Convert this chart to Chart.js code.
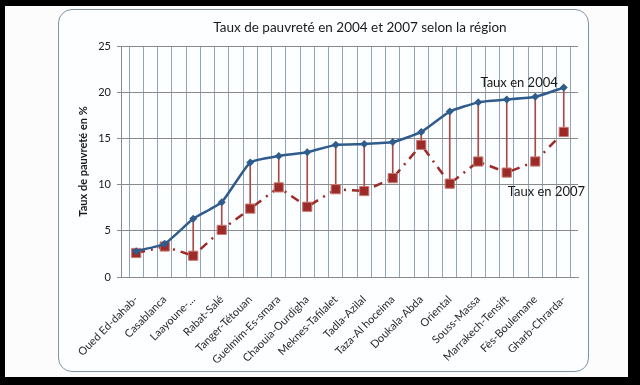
<!DOCTYPE html>
<html>
<head>
<meta charset="utf-8">
<script src="https://cdn.jsdelivr.net/npm/chart.js@4/dist/chart.umd.min.js"></script>
<style>
  html, body { margin:0; padding:0; background:#000; }
  body { width:640px; height:385px; position:relative; overflow:hidden; }
  .sheet { position:absolute; left:5px; top:6px; width:623px; height:371px; background:#fcfcfc; }
  .panel { position:absolute; left:53px; top:3px; width:529px; height:361px;
           border:1.5px solid #7d93a6; border-radius:14px; background:#fdfeff; }
  #chart { position:absolute; left:0; top:0; }
</style>
</head>
<body>
<div class="sheet">
  <div class="panel">
    <canvas id="chart" width="529" height="361"></canvas>
  </div>
</div>
<script>
// ====== DATA ======
const regions = ['Oued Ed-dahab-', 'Casablanca', 'Laayoune-...', 'Rabat-Salé', 'Tanger-Tétouan',
  'Guelmim-Es-smara', 'Chaouia-Ourdigha', 'Meknes-Tafilalet', 'Tadla-Azilal', 'Taza-Al hoceima',
  'Doukala-Abda', 'Oriental', 'Souss-Massa', 'Marrakech-Tensift', 'Fès-Boulemane', 'Gharb-Chrarda-'];
const taux2004 = [2.8, 3.6, 6.3, 8.1, 12.4, 13.1, 13.5, 14.3, 14.4, 14.6, 15.7, 17.9, 18.9, 19.2, 19.5, 20.5];
const taux2007 = [2.6, 3.3, 2.3, 5.1, 7.4, 9.7, 7.6, 9.5, 9.3, 10.7, 14.3, 10.1, 12.5, 11.3, 12.5, 15.7];
const yTicks = [0, 5, 10, 15, 20, 25];
const TITLE = 'Taux de pauvreté en 2004 et 2007 selon la région';

const FONT = 'Lato, "Open Sans", sans-serif';
const BLUE = '#2f5c8c';
const RED = '#9c2b27';

// x grid: one line at every category and one between categories
const xGridTicks = [];
for (let i = -0.5; i <= regions.length - 0.5; i += 0.5) xGridTicks.push(i);

// title + "Taux en 2004" / "Taux en 2007" texts
const texts = {
  id: 'texts',
  afterDatasetsDraw(chart){
    const {ctx, chartArea, scales:{x, y}} = chart;
    ctx.save();
    ctx.fillStyle = '#1a1a1a';
    ctx.textBaseline = 'middle';
    ctx.font = '13.5px ' + FONT;
    ctx.textAlign = 'center';
    ctx.fillText(TITLE, (chartArea.left + chartArea.right) / 2 + 10, 18);
    ctx.font = '13px ' + FONT;
    const last = regions.length - 1;
    ctx.textAlign = 'right';
    ctx.fillText('Taux en 2004', x.getPixelForValue(last) - 6, y.getPixelForValue(taux2004[last]) - 5);
    ctx.textAlign = 'left';
    ctx.fillText('Taux en 2007', x.getPixelForValue(13) + 1, y.getPixelForValue(taux2007[13]) + 19);
    ctx.restore();
  }
};

new Chart(document.getElementById('chart'), {
  data: {
    datasets: [
      {
        type: 'line', label: 'Taux en 2004', order: 1,
        data: taux2004.map((v, i) => ({ x: i, y: v })),
        borderColor: BLUE, backgroundColor: BLUE, borderWidth: 2.5, tension: 0.15,
        pointStyle: 'rectRot', pointRadius: 4, pointBorderWidth: 0
      },
      {
        type: 'line', label: 'Taux en 2007', order: 2,
        data: taux2007.map((v, i) => ({ x: i, y: v })),
        borderColor: RED, backgroundColor: RED, borderWidth: 2.5, borderDash: [9, 6, 2, 6],
        pointStyle: 'rect', pointRadius: 6.5, pointBorderWidth: 1, pointBorderColor: '#c87a74'
      },
      {
        type: 'bar', label: 'ecart', order: 3,
        data: taux2004.map((v, i) => ({ x: i, y: [taux2007[i], v] })),
        backgroundColor: '#a84a46', barThickness: 1
      }
    ]
  },
  options: {
    responsive: false,
    animation: false,
    layout: { padding: { left: 10, right: 10, top: 36, bottom: 0 } },
    plugins: {
      legend: { display: false },
      tooltip: { enabled: false },
      title: { display: false }
    },
    scales: {
      x: {
        type: 'linear', min: -0.5, max: regions.length - 0.5, offset: false,
        afterBuildTicks: (s) => { s.ticks = xGridTicks.map(v => ({ value: v })); },
        afterFit: (s) => { s.height = 94; s.paddingLeft = 0; s.paddingRight = 0; },
        grid: { color: '#93a4b8', lineWidth: 1, drawTicks: false },
        border: { color: '#8a8a8a' },
        ticks: {
          color: '#2a2a2a', font: { family: FONT, size: 11 }, maxRotation: 45, minRotation: 45,
          padding: 16, autoSkip: false,
          callback: (v) => Number.isInteger(v) ? regions[v] : ''
        }
      },
      y: {
        min: 0, max: 25,
        afterBuildTicks: (s) => { s.ticks = yTicks.map(v => ({ value: v })); },
        grid: { color: '#8a8a8a', lineWidth: 1, tickLength: 5 },
        border: { color: '#8a8a8a' },
        ticks: { color: '#1a1a1a', font: { family: FONT, size: 11 }, padding: 6 },
        title: {
          display: true, text: 'Taux de pauvreté en %', color: '#1a1a1a',
          font: { family: FONT, size: 11, weight: 'bold' }, padding: { top: 8, bottom: 2 }
        }
      }
    }
  },
  plugins: [texts]
});
</script>
</body>
</html>
